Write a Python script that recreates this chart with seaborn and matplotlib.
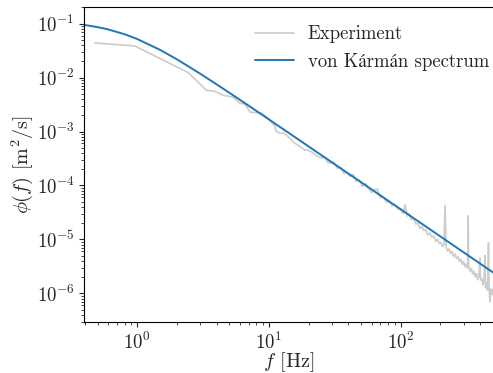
import numpy as np
import pandas as pd
import seaborn as sns
import matplotlib
matplotlib.use("Agg")
import matplotlib.pyplot as plt

# ---- data ----
exp_freq = [0.477, 0.955, 2.43, 3.34, 3.87, 4.48, 5.33, 6.03, 6.58, 7.18, 8.86,
            10.2, 11.1, 11.3, 12.1, 13.0, 14.1, 15.3, 16.6, 18.8, 19.8, 21.2, 23.2,
            25, 26.5, 28, 29.5, 31, 33, 35, 37, 39, 41, 43.5, 46, 48.5, 51, 54, 57,
            60, 63, 66.5, 70, 74, 78, 82, 86, 90.5, 95, 100,
            104, 108, 112, 116, 120, 125, 130, 135, 140, 145, 150, 155, 160, 166,
            172, 178, 184, 190, 196, 202, 208, 213, 217, 221, 227, 233, 239, 245,
            251, 258, 265, 272, 279, 286, 293, 300, 308, 316, 322, 325, 328, 336,
            344, 352, 360, 368, 376, 384, 392, 400, 404, 412, 420, 428, 436, 440,
            448, 456, 464, 468, 476, 480, 486, 492, 498]
exp_psd = [0.0437, 0.0385, 0.0124, 0.00582, 0.00557, 0.0047, 0.00431, 0.00334,
           0.00321, 0.00228, 0.00218, 0.00162, 0.00125, 0.00101, 0.00093, 0.00093,
           0.000784, 0.000634, 0.000557, 0.000451, 0.000451, 0.000414, 0.000349,
           3.24e-4, 3.39e-4, 2.63e-4, 2.64e-4, 2.73e-4, 2.09e-4, 2.18e-4, 1.69e-4,
           1.74e-4, 1.49e-4, 1.59e-4, 1.20e-4, 1.26e-4, 9.66e-5, 1.08e-4, 8.81e-5,
           7.38e-5, 8.38e-5, 8.57e-5, 5.97e-5, 6.11e-5, 4.88e-5, 5.04e-5, 4.24e-5,
           4.47e-5, 3.67e-5, 3.70e-5,
           3.02e-5, 4.4e-5, 2.73e-5, 2.96e-5, 2.32e-5, 2.44e-5, 1.94e-5, 2.00e-5,
           1.60e-5, 1.73e-5, 1.46e-5, 1.52e-5, 1.22e-5, 1.32e-5, 1.11e-5, 1.15e-5,
           9.27e-6, 1.01e-5, 8.53e-6, 8.89e-6, 7.38e-6, 7.96e-6, 4.3e-5, 7.14e-6,
           6.10e-6, 6.70e-6, 5.46e-6, 6.01e-6, 4.92e-6, 5.40e-6, 4.40e-6, 4.83e-6,
           3.94e-6, 4.34e-6, 3.47e-6, 3.92e-6, 3.12e-6, 3.51e-6, 2.96e-6, 2.74e-5,
           3.22e-6, 2.58e-6, 2.91e-6, 2.28e-6, 2.58e-6, 2.02e-6, 2.34e-6, 1.79e-6,
           2.08e-6, 4.5e-6, 1.77e-6, 1.87e-6, 1.44e-6, 1.72e-6, 5.1e-6, 1.28e-6,
           1.56e-6, 1.15e-6, 8.7e-6, 1.38e-6, 7.0e-7, 1.21e-6, 9.86e-7, 1.19e-6,
           9.46e-7]

vk_freq = [0.4, 0.5, 0.6, 0.8, 1, 1.5, 2, 3, 4, 6, 8, 10, 20, 50, 100, 200, 500]
vk_psd = [0.0938, 0.0858, 0.0779, 0.0634, 0.0516, 0.0322, 0.0217, 0.01179,
          0.00748, 0.00388, 0.002415, 0.001669, 0.000528, 1.149e-4, 3.62e-5,
          1.139e-5, 2.47e-6]

labels = ["Experiment", "von Kármán spectrum"]

# ---- style ----
sns.set_style("ticks")
plt.rcParams["font.family"] = ["cmr10", "STIXGeneral"]
plt.rcParams["mathtext.fontset"] = "cm"
plt.rcParams["axes.formatter.use_mathtext"] = True
plt.rcParams["axes.unicode_minus"] = True
plt.rcParams["font.size"] = 13.5

fig = plt.figure(figsize=(4.93, 3.73), dpi=100)
ax = fig.add_axes([0.171, 0.1375, 0.8286, 0.843])
ax.set_xscale("log")
ax.set_yscale("log")

df_exp = pd.DataFrame({"f": exp_freq, "psd": exp_psd})
df_vk = pd.DataFrame({"f": vk_freq, "psd": vk_psd})

sns.lineplot(data=df_exp, x="f", y="psd", ax=ax, color="#cccccc", lw=1.2,
             sort=False, estimator=None, label=labels[0])
sns.lineplot(data=df_vk, x="f", y="psd", ax=ax, color="#1f77b4", lw=1.4,
             sort=False, estimator=None, label=labels[1])

ax.set_xlim(0.396, 500)
ax.set_ylim(3e-7, 0.2)
ax.set_xlabel(r"$f$ [Hz]", fontsize=14.5, labelpad=-2)
ax.set_ylabel(r"$\phi(f)$ [m$^2$/s]", fontsize=14.5, labelpad=1)
ax.tick_params(labelsize=13.5)
ax.spines["right"].set_visible(False)
for s in ["left", "bottom", "top"]:
    ax.spines[s].set_color("black")
    ax.spines[s].set_linewidth(0.8)

leg = ax.legend(loc="upper right", frameon=False, fontsize=13.5,
                handlelength=2.1, handletextpad=0.7, borderaxespad=0.4,
                bbox_to_anchor=(1.027, 0.99))

fig.savefig("out.png", dpi=100)
